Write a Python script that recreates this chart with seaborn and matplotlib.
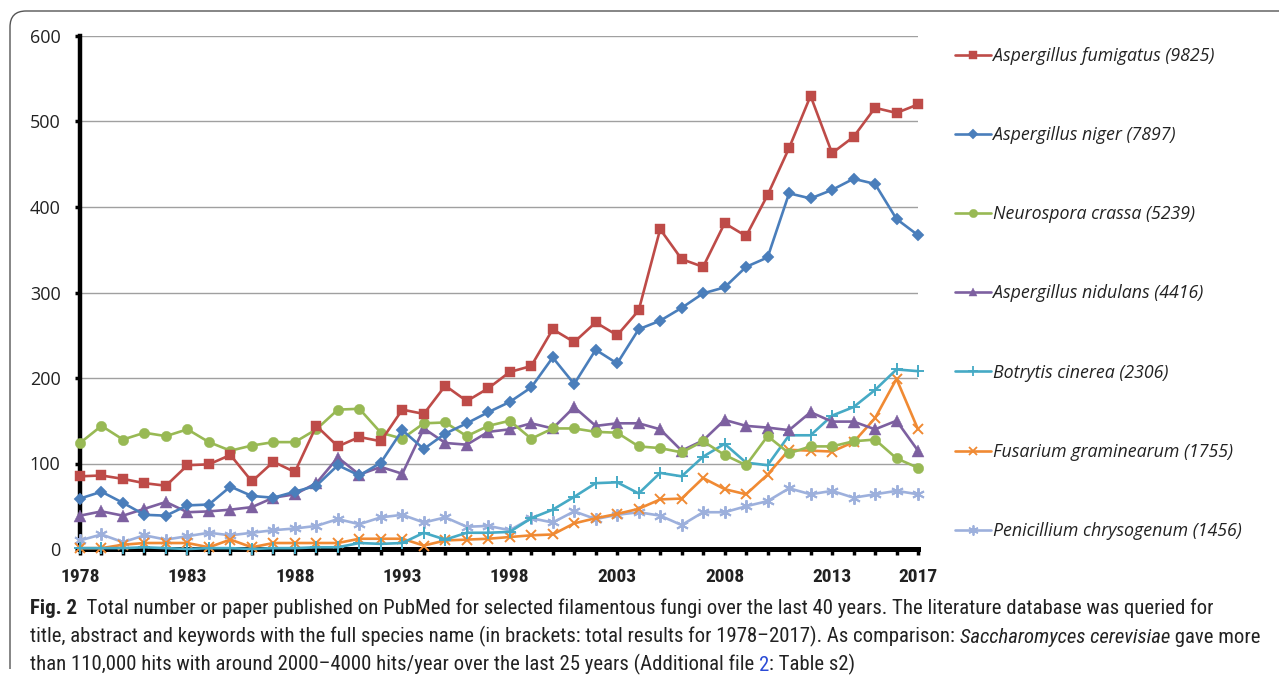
import numpy as np
import pandas as pd
import matplotlib
matplotlib.use("Agg")
import matplotlib.pyplot as plt
import seaborn as sns
from matplotlib import font_manager
from matplotlib.lines import Line2D
from matplotlib.path import Path
from matplotlib.patches import PathPatch

# ---- Data ----
years = list(range(1978, 2018))

species = ["Aspergillus fumigatus", "Aspergillus niger", "Neurospora crassa",
           "Aspergillus nidulans", "Botrytis cinerea", "Fusarium graminearum",
           "Penicillium chrysogenum"]
totals = [9825, 7897, 5239, 4416, 2306, 1755, 1456]

fumigatus = [85, 86, 82, 77, 74, 98, 99, 110, 79, 102, 90, 144, 120, 131, 126, 163, 158, 191, 173, 188,
             207, 214, 257, 242, 265, 250, 279, 374, 339, 330, 381, 366, 414, 469, 530, 463, 482, 516, 510, 520]
niger = [59, 67, 54, 40, 39, 51, 52, 73, 62, 60, 67, 74, 98, 86, 101, 139, 117, 135, 147, 160,
         172, 189, 224, 193, 233, 217, 257, 267, 282, 299, 306, 330, 341, 416, 410, 420, 433, 427, 386, 367]
crassa = [124, 144, 128, 136, 132, 140, 125, 115, 121, 125, 125, 140, 163, 164, 136, 129, 147, 148, 132, 144,
          150, 129, 141, 141, 137, 136, 120, 118, 113, 126, 110, 98, 132, 112, 120, 120, 126, 128, 106, 95]
nidulans = [39, 44, 39, 47, 55, 43, 44, 46, 49, 60, 64, 77, 107, 87, 96, 88, 141, 124, 122, 137,
            140, 147, 141, 166, 144, 147, 147, 140, 115, 127, 151, 144, 142, 139, 160, 149, 149, 140, 150, 115]
botrytis = [1, 1, 1, 2, 1, 0, 1, 1, 0, 1, 1, 2, 2, 7, 6, 7, 19, 11, 19, 19,
            20, 36, 46, 61, 77, 78, 65, 89, 85, 108, 123, 101, 98, 133, 133, 156, 166, 186, 210, 208]
fusarium = [1, 1, 5, 7, 7, 7, 2, 11, 2, 7, 7, 7, 7, 12, 12, 12, 4, 10, 11, 12,
            14, 16, 17, 30, 36, 41, 47, 58, 59, 83, 70, 64, 87, 116, 115, 114, 125, 153, 199, 140]
penicillium = [10, 17, 8, 16, 11, 15, 19, 16, 19, 22, 24, 27, 35, 29, 37, 40, 31, 37, 26, 27,
               22, 36, 31, 44, 35, 40, 43, 39, 28, 43, 43, 50, 56, 71, 64, 68, 60, 64, 68, 64]

series = [fumigatus, niger, crassa, nidulans, botrytis, fusarium, penicillium]

colors = ["#BE4B48", "#4A7EBB", "#98B954", "#7D60A0", "#46AAC5", "#F08A33", "#9DB0DC"]
marker_list = ["s", "D", "o", "^", "+", "x", (6, 2, 0)]
marker_sizes = [7.5, 6, 7.5, 8, 9, 7, 9]

labels = [f"{s} ({t})" for s, t in zip(species, totals)]

# ---- Fonts ----
names = {f.name for f in font_manager.fontManager.ttflist}
condensed_dejavu = any(f.name == "DejaVu Sans" and str(f.stretch) in ("condensed", "semi-condensed")
                       for f in font_manager.fontManager.ttflist)
if "Liberation Sans Narrow" in names:
    narrow, stretch = "Liberation Sans Narrow", "normal"
elif "Roboto Condensed" in names:
    narrow, stretch = "Roboto Condensed", "normal"
elif condensed_dejavu:
    narrow, stretch = "DejaVu Sans", "condensed"
else:
    narrow, stretch = "Roboto", "normal"
sans = "Open Sans" if "Open Sans" in names else "DejaVu Sans"

sns.set_style("white")
plt.rcParams["font.family"] = [sans, "DejaVu Sans"]

fig = plt.figure(figsize=(12.79, 6.76), dpi=100)
ax = fig.add_axes([80 / 1279, 1 - 549 / 676, (918 - 80) / 1279, (549 - 36) / 676])

for i, (vals, lab) in enumerate(zip(series, labels)):
    d = pd.DataFrame({"year": years, "count": vals})
    sns.lineplot(data=d, x="year", y="count", color=colors[i], marker=marker_list[i],
                 markersize=marker_sizes[i], markeredgecolor=colors[i], markerfacecolor=colors[i],
                 markeredgewidth=(1.4 if i >= 4 else 0.3), linewidth=1.9,
                 clip_on=False, zorder=3 + (7 - i) * 0.01, ax=ax, label=lab, legend=False)

ax.set_xlim(1978, 2017)
ax.set_ylim(0, 600)
ax.set_yticks(range(0, 601, 100))
ax.set_xticks(years)
show = [1978, 1983, 1988, 1993, 1998, 2003, 2008, 2013, 2017]
ax.set_xticklabels([str(y) if y in show else "" for y in years])
ax.set_xlabel("")
ax.set_ylabel("")

ax.yaxis.grid(True, color="#A0A0A0", linewidth=1.0)
ax.xaxis.grid(False)
ax.set_axisbelow(True)
for s in ["top", "right"]:
    ax.spines[s].set_visible(False)
ax.spines["left"].set_linewidth(3.2)
ax.spines["bottom"].set_linewidth(3.6)
ax.spines["left"].set_color("black")
ax.spines["bottom"].set_color("black")

ax.tick_params(axis="y", direction="out", length=3.5, width=2.5, color="black",
               pad=10.5, labelsize=13, labelcolor="#222222", left=True)
ax.tick_params(axis="x", direction="out", length=4, width=2.5, color="black",
               pad=10, labelsize=14, labelcolor="#222222", bottom=True)
for t in ax.get_xticklabels():
    t.set_fontfamily([narrow, "DejaVu Sans"])
    t.set_fontstretch(stretch)
    t.set_fontweight("bold")

# ---- Legend ----
handles = [Line2D([], [], color=c, marker=m, markersize=ms * 0.8, linewidth=1.9,
                  markeredgewidth=(1.3 if i >= 4 else 0.3), markerfacecolor=c, markeredgecolor=c)
           for i, (c, m, ms) in enumerate(zip(colors, marker_list, marker_sizes))]
fig.legend(handles, labels, loc="upper left", bbox_to_anchor=(955 / 1279, 1 - 47 / 676),
           frameon=False, prop={"family": sans, "style": "italic", "size": 12.8},
           labelspacing=3.44, handlelength=2.0, handletextpad=0.15,
           borderpad=0, borderaxespad=0, numpoints=1, labelcolor="#222222")

# ---- Caption ----
cap_kw = {"fontfamily": [narrow, "DejaVu Sans"], "fontstretch": stretch,
          "fontsize": 14.5, "color": "#222222"}


def chain(pieces, x, y):
    arts = [fig.text(x, y, pieces[0][0], va="bottom", ha="left", **{**cap_kw, **pieces[0][1]})]
    for s, kw in pieces[1:]:
        arts.append(ax.annotate(s, xy=(1, 0), xycoords=arts[-1], va="bottom", ha="left",
                                annotation_clip=False, **{**cap_kw, **kw}))
    return arts


line1 = chain([("Fig. 2", {"fontweight": "bold"}),
               ("  Total number or paper published on PubMed for selected filamentous fungi over the last 40 years. "
                "The literature database was queried for", {})],
              30 / 1279, 1 - 618 / 676)
line2 = chain([("title, abstract and keywords with the full species name (in brackets: total results for 1978\u20132017). "
                "As comparison: ", {}),
               ("Saccharomyces cerevisiae", {"fontstyle": "italic"}),
               (" gave more", {})],
              30 / 1279, 1 - 647 / 676)
line3 = chain([("than 110,000 hits with around 2000\u20134000 hits/year over the last 25 years (Additional file ", {}),
               ("2", {"color": "#2B4BD6"}),
               (": Table s2)", {})],
              30 / 1279, 1 - 675 / 676)

# fit caption width to the reference (line 1 ends ~1250 px, line 2 ~1262 px)
fig.canvas.draw()
r = fig.canvas.get_renderer()


def span(arts):
    return arts[-1].get_window_extent(r).x1 - arts[0].get_window_extent(r).x0


scale = min(1220 / span(line1), 1230 / span(line2))
for t in line1 + line2 + line3:
    t.set_fontsize(t.get_fontsize() * scale)

# ---- Outer frame (top + left, rounded corner) ----
W, H = 1279, 676
pts = [(10, 669), (10, 27), (10, 11), (26, 11), (1300, 11)]
verts = [(px / W, 1 - py / H) for px, py in pts]
codes = [Path.MOVETO, Path.LINETO, Path.CURVE3, Path.CURVE3, Path.LINETO]
fig.add_artist(PathPatch(Path(verts, codes), transform=fig.transFigure,
                         fill=False, edgecolor="#555555", linewidth=1.0))

fig.savefig("out.png", dpi=100)
